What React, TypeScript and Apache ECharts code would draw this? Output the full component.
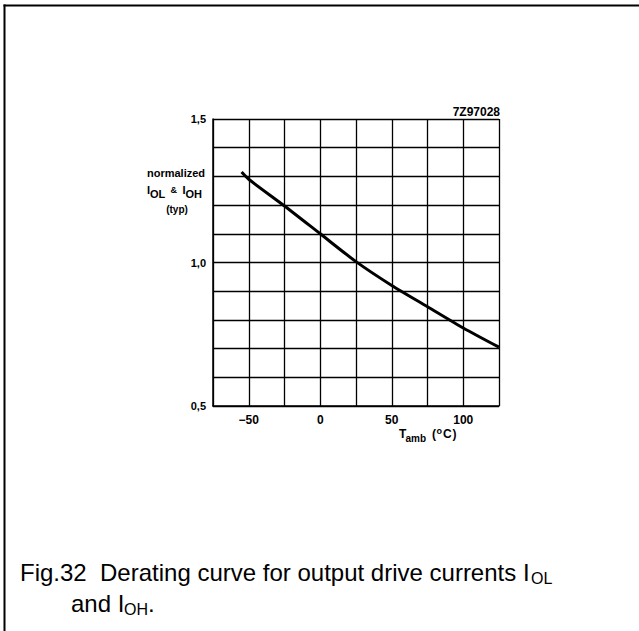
import React, { useEffect, useRef } from "react";
import * as echarts from "echarts";

// Data (Tamb in °C, normalized IOL & IOH)
const temps = [-55, -50, -25, 0, 25, 50, 75, 100, 125];
const ioNorm = [1.315, 1.29, 1.197, 1.1, 1.003, 0.92, 0.846, 0.772, 0.705];

const xTickLabels: Record<string, string> = { "-50": "\u221250", "0": "0", "50": "50", "100": "100" };
const yTickLabels: Record<string, string> = { "0.5": "0,5", "1": "1,0", "1.5": "1,5" };

const FONT = "'Liberation Sans', Arial, Helvetica, sans-serif";

export default function App() {
  const ref = useRef<HTMLDivElement>(null);

  useEffect(() => {
    if (!ref.current) return;
    const chart = echarts.init(ref.current, null, { renderer: "svg" });

    const txt = (
      text: string,
      x: number,
      y: number,
      size: number,
      align: string = "left",
      weight: string = "bold"
    ) => ({
      type: "text",
      x,
      y,
      silent: true,
      style: {
        text,
        fontSize: size,
        fontWeight: weight,
        fontFamily: FONT,
        fill: "#000",
        textAlign: align,
        textVerticalAlign: "middle",
      },
    });

    const option: any = {
      animation: false,
      grid: { left: 213, top: 119, width: 286, height: 287, containLabel: false },
      xAxis: {
        type: "value",
        min: -75,
        max: 125,
        interval: 25,
        axisLine: { show: true, onZero: false, lineStyle: { color: "#000", width: 1.5 } },
        axisTick: { show: false },
        splitLine: { show: true, lineStyle: { color: "#000", width: 1.3 } },
        axisLabel: {
          margin: 8,
          fontSize: 12,
          fontWeight: "bold",
          fontFamily: FONT,
          color: "#000",
          formatter: (v: number) => xTickLabels[String(Math.round(v))] ?? "",
        },
      },
      yAxis: {
        type: "value",
        min: 0.5,
        max: 1.5,
        interval: 0.1,
        axisLine: { show: true, onZero: false, lineStyle: { color: "#000", width: 1.5 } },
        axisTick: { show: false },
        splitLine: { show: true, lineStyle: { color: "#000", width: 1.3 } },
        axisLabel: {
          margin: 7,
          fontSize: 11,
          fontWeight: "bold",
          fontFamily: FONT,
          color: "#000",
          formatter: (v: number) => yTickLabels[String(Math.round(v * 10) / 10)] ?? "",
        },
      },
      series: [
        {
          type: "line",
          data: temps.map((t, i) => [t, ioNorm[i]]),
          smooth: 0.25,
          showSymbol: false,
          symbol: "none",
          lineStyle: { color: "#000", width: 3, cap: "butt" },
        },
      ],
      graphic: [
        // outer frame (top and left edges)
        {
          type: "line",
          silent: true,
          shape: { x1: 4.5, y1: 631, x2: 4.5, y2: 4.5 },
          style: { stroke: "#000", lineWidth: 2 },
        },
        {
          type: "line",
          silent: true,
          shape: { x1: 3.5, y1: 5.5, x2: 639, y2: 5.5 },
          style: { stroke: "#000", lineWidth: 2 },
        },
        // figure code
        txt("7Z97028", 500, 112, 12, "right"),
        // y axis title
        txt("normalized", 176, 173, 11, "center"),
        txt("I", 147, 190, 11, "left"),
        txt("OL", 150, 193.5, 11, "left"),
        txt("&", 170.5, 190, 9, "left"),
        txt("I", 182.5, 190, 11, "left"),
        txt("OH", 185.5, 193.5, 11, "left"),
        txt("(typ)", 177, 209.5, 10, "center"),
        // x axis title
        txt("T", 399, 434, 12, "left"),
        txt("amb", 405.5, 438, 10, "left"),
        txt("(", 432, 434, 12, "left"),
        txt("o", 436.5, 430.5, 9, "left"),
        txt("C", 443, 434, 12, "left"),
        txt(")", 452.5, 434, 12, "left"),
        // caption
        txt("Fig.32  Derating curve for output drive currents I", 20, 572, 24, "left", "normal"),
        txt("OL", 531, 578, 16, "left", "normal"),
        txt("and I", 71, 603, 24, "left", "normal"),
        txt("OH", 124, 609, 16, "left", "normal"),
        txt(".", 148, 603, 24, "left", "normal"),
      ],
    };

    chart.setOption(option);
    return () => chart.dispose();
  }, []);

  return (
    <div
      ref={ref}
      style={{ position: "fixed", left: 0, top: 0, width: 639, height: 631, background: "#fff" }}
    />
  );
}
